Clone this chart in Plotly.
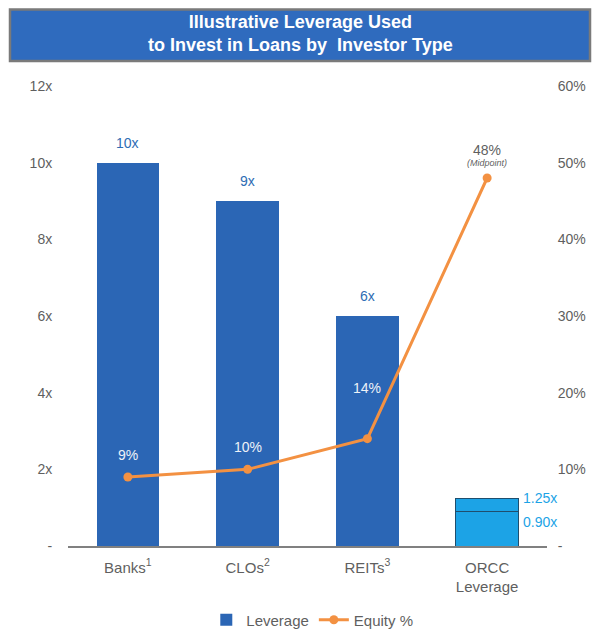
import plotly.graph_objects as go

categories = ["Banks<sup>1</sup>", "CLOs<sup>2</sup>", "REITs<sup>3</sup>", "ORCC<br>Leverage"]
leverage = [10, 9, 6, 0.90]
orcc_top_extra = [None, None, None, 0.35]
equity_pct = [9, 10, 14, 48]
lev_labels = ["10x", "9x", "6x", None]
eq_labels = ["9%", "10%", "14%", "48%"]
left_ticks = [0, 2, 4, 6, 8, 10, 12]
left_ticktext = ["-", "2x", "4x", "6x", "8x", "10x", "12x"]
right_ticks = [0, 10, 20, 30, 40, 50, 60]
right_ticktext = ["-", "10%", "20%", "30%", "40%", "50%", "60%"]

BLUE = "#2B66B5"
CYAN = "#1CA3E6"
ORANGE = "#F39142"
GRAY = "#5F5F5F"
FONT = "Liberation Sans, Arial, sans-serif"

# page body has an 8px margin: figure is offset by 8px in the 600x633 window
W, H = 592, 625
L, R, T, B = 60, 53, 78, 87
PW, PH = W - L - R, H - T - B


def px_x(x):  # figure pixel -> paper x
    return (x - L) / PW


def px_y(y):  # figure pixel -> paper y
    return (H - B - y) / PH


fig = go.Figure()
fig.add_trace(go.Bar(
    x=categories, y=leverage, name="Leverage", width=0.52,
    marker=dict(color=[BLUE, BLUE, BLUE, CYAN],
                line=dict(color=[BLUE, BLUE, BLUE, "#1F4E6E"], width=[0, 0, 0, 1])),
    yaxis="y", hoverinfo="skip",
))
fig.add_trace(go.Bar(
    x=categories, y=orcc_top_extra, name="ORCC high", width=0.52, showlegend=False,
    marker=dict(color=CYAN, line=dict(color="#1F4E6E", width=1)),
    yaxis="y", hoverinfo="skip",
))
fig.add_trace(go.Scatter(
    x=categories, y=equity_pct, name="Equity %", mode="lines+markers",
    line=dict(color=ORANGE, width=3), marker=dict(color=ORANGE, size=9),
    yaxis="y2", hoverinfo="skip",
))

annotations = []
for c, v, t in zip(categories, leverage, lev_labels):
    if t:
        annotations.append(dict(x=c, y=v, yref="y", text=t, showarrow=False,
                                yshift=20, font=dict(size=14, color="#2E6DB4", family=FONT)))
shifts = [22, 22, 51]
for c, v, t, s in zip(categories[:3], equity_pct[:3], eq_labels[:3], shifts):
    annotations.append(dict(x=c, y=v, xref="x", yref="y2", text=t, showarrow=False,
                            yshift=s, font=dict(size=14, color="#EEF2F8", family=FONT)))
annotations.append(dict(x=categories[3], y=equity_pct[3], yref="y2", text=eq_labels[3],
                        showarrow=False, yshift=28, font=dict(size=14, color=GRAY, family=FONT)))
annotations.append(dict(x=categories[3], y=equity_pct[3], yref="y2", text="<i>(Midpoint)</i>",
                        showarrow=False, yshift=15, font=dict(size=9, color=GRAY, family=FONT)))
annotations.append(dict(x=categories[3], y=leverage[3] + 0.35, yref="y", text="1.25x",
                        showarrow=False, xanchor="left", xshift=34, yshift=0,
                        font=dict(size=14, color=CYAN, family=FONT)))
annotations.append(dict(x=categories[3], y=leverage[3], yref="y", text="0.90x",
                        showarrow=False, xanchor="left", xshift=34, yshift=-10,
                        font=dict(size=14, color=CYAN, family=FONT)))
annotations.append(dict(x=px_x(292), y=px_y(25), xref="paper", yref="paper",
                        xanchor="center", yanchor="middle",
                        text="<b>Illustrative Leverage Used<br>to Invest in Loans by  Investor Type</b>",
                        showarrow=False, font=dict(size=18, color="white", family=FONT)))

fig.update_layout(
    width=W, height=H,
    margin=dict(l=L, r=R, t=T, b=B, autoexpand=False),
    paper_bgcolor="white", plot_bgcolor="white",
    barmode="stack",
    font=dict(family=FONT, color=GRAY, size=14),
    xaxis=dict(showline=True, linecolor="#808080", linewidth=1.5, ticks="",
               range=[-0.5, len(categories) - 0.5], autorange=False,
               ticklabelstandoff=7,
               tickfont=dict(size=15, color=GRAY), showgrid=False, fixedrange=True),
    yaxis=dict(range=[0, 12], tickvals=left_ticks, ticktext=left_ticktext, showgrid=False,
               zeroline=False, showline=False, ticks="outside", ticklen=12,
               tickcolor="rgba(0,0,0,0)", tickfont=dict(size=14, color=GRAY)),
    yaxis2=dict(range=[0, 60], tickvals=right_ticks, ticktext=right_ticktext, overlaying="y",
                side="right", showgrid=False, zeroline=False, showline=False, ticks="outside",
                ticklen=7, tickcolor="rgba(0,0,0,0)", tickfont=dict(size=14, color=GRAY)),
    legend=dict(orientation="h", x=0.51, xanchor="center", yref="container",
                y=1 - 612 / H, yanchor="middle",
                font=dict(size=15, color=GRAY), traceorder="normal"),
    showlegend=True,
    annotations=annotations,
    shapes=[
        dict(type="rect", xref="paper", yref="paper", x0=px_x(2), x1=px_x(582),
             y0=px_y(53), y1=px_y(1.5),
             fillcolor="#2F6BBE", line=dict(color="#7A7A7A", width=2.5), layer="below"),
    ],
)

fig.write_html("out.html")
